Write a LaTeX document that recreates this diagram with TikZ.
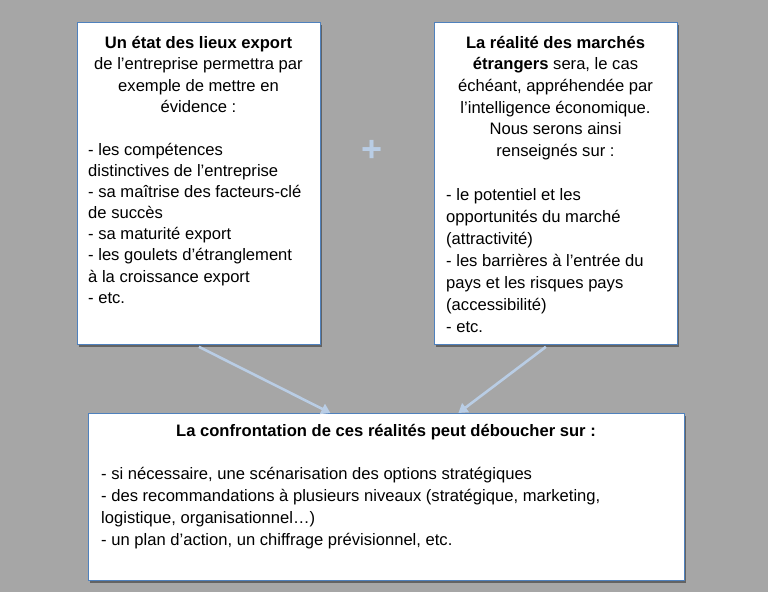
\documentclass[tikz,border=0pt]{standalone}
\usepackage{fontspec}
\setmainfont{Liberation Sans}
\usetikzlibrary{shadows,arrows.meta}
\definecolor{bggray}{RGB}{166,166,166}
\definecolor{boxline}{RGB}{79,129,189}
\definecolor{arrowblue}{RGB}{185,205,229}
\tikzset{
  panel/.style={draw=boxline, line width=0.8pt, fill=white, anchor=north west,
    inner sep=0pt, drop shadow={shadow xshift=2pt, shadow yshift=-3pt, opacity=0.4, fill=black}},
  txt/.style={inner sep=0pt, font=\fontsize{16.6}{21.6}\selectfont},
  conn/.style={draw=arrowblue, line width=2.6pt, -{Triangle[width=11pt,length=9pt]}},
}
\begin{document}
\begin{tikzpicture}[x=1pt,y=-1pt]
\fill[bggray] (0,0) rectangle (768,592);
\useasboundingbox (0,0) rectangle (768,592);

\node[panel, minimum width=243pt, minimum height=322pt] (b1) at (77,22) {};
\node[panel, minimum width=243pt, minimum height=322pt] (b2) at (434,22) {};
\node[panel, minimum width=596pt, minimum height=167pt] (b3) at (88,413) {};

\node[txt, align=center, anchor=north, font=\fontsize{16.6}{21.4}\selectfont] (h1) at (198.5,36)
  {\textbf{Un état des lieux export}\\de l’entreprise permettra par\\exemple de mettre en\\évidence :};
\node[txt, align=left, anchor=north west, font=\fontsize{16.6}{21.1}\selectfont] (l1) at (88,143)
  {- les compétences\\distinctives de l’entreprise\\- sa maîtrise des facteurs-clé\\de succès\\- sa maturité export\\- les goulets d’étranglement\\à la croissance export\\- etc.};

\node[txt, align=center, anchor=north] (h2) at (555.5,36)
  {\textbf{La réalité des marchés}\\\textbf{étrangers} sera, le cas\\échéant, appréhendée par\\l’intelligence économique.\\Nous serons ainsi\\renseignés sur :};
\node[txt, align=left, anchor=north west, font=\fontsize{16.6}{22}\selectfont] (l2) at (446,188)
  {- le potentiel et les\\opportunités du marché\\(attractivité)\\- les barrières à l’entrée du\\pays et les risques pays\\(accessibilité)\\- etc.};

\node[txt, anchor=north] (h3) at (386,424.5)
  {\textbf{La confrontation de ces réalités peut déboucher sur :}};
\node[txt, align=left, anchor=north west, font=\fontsize{16.6}{22}\selectfont] (l3) at (101,467.5)
  {- si nécessaire, une scénarisation des options stratégiques\\- des recommandations à plusieurs niveaux (stratégique, marketing,\\logistique, organisationnel…)\\- un plan d’action, un chiffrage prévisionnel, etc.};

\node[inner sep=0pt, text=arrowblue, font=\fontsize{36}{36}\selectfont\bfseries] (plus) at (372,151) {+};

\draw[conn] ([yshift=-2pt]b1.south) -- ([xshift=-56pt]b3.north);
\draw[conn] ([xshift=-10pt,yshift=-2pt]b2.south) -- ([xshift=72pt]b3.north);
\end{tikzpicture}
\end{document}
